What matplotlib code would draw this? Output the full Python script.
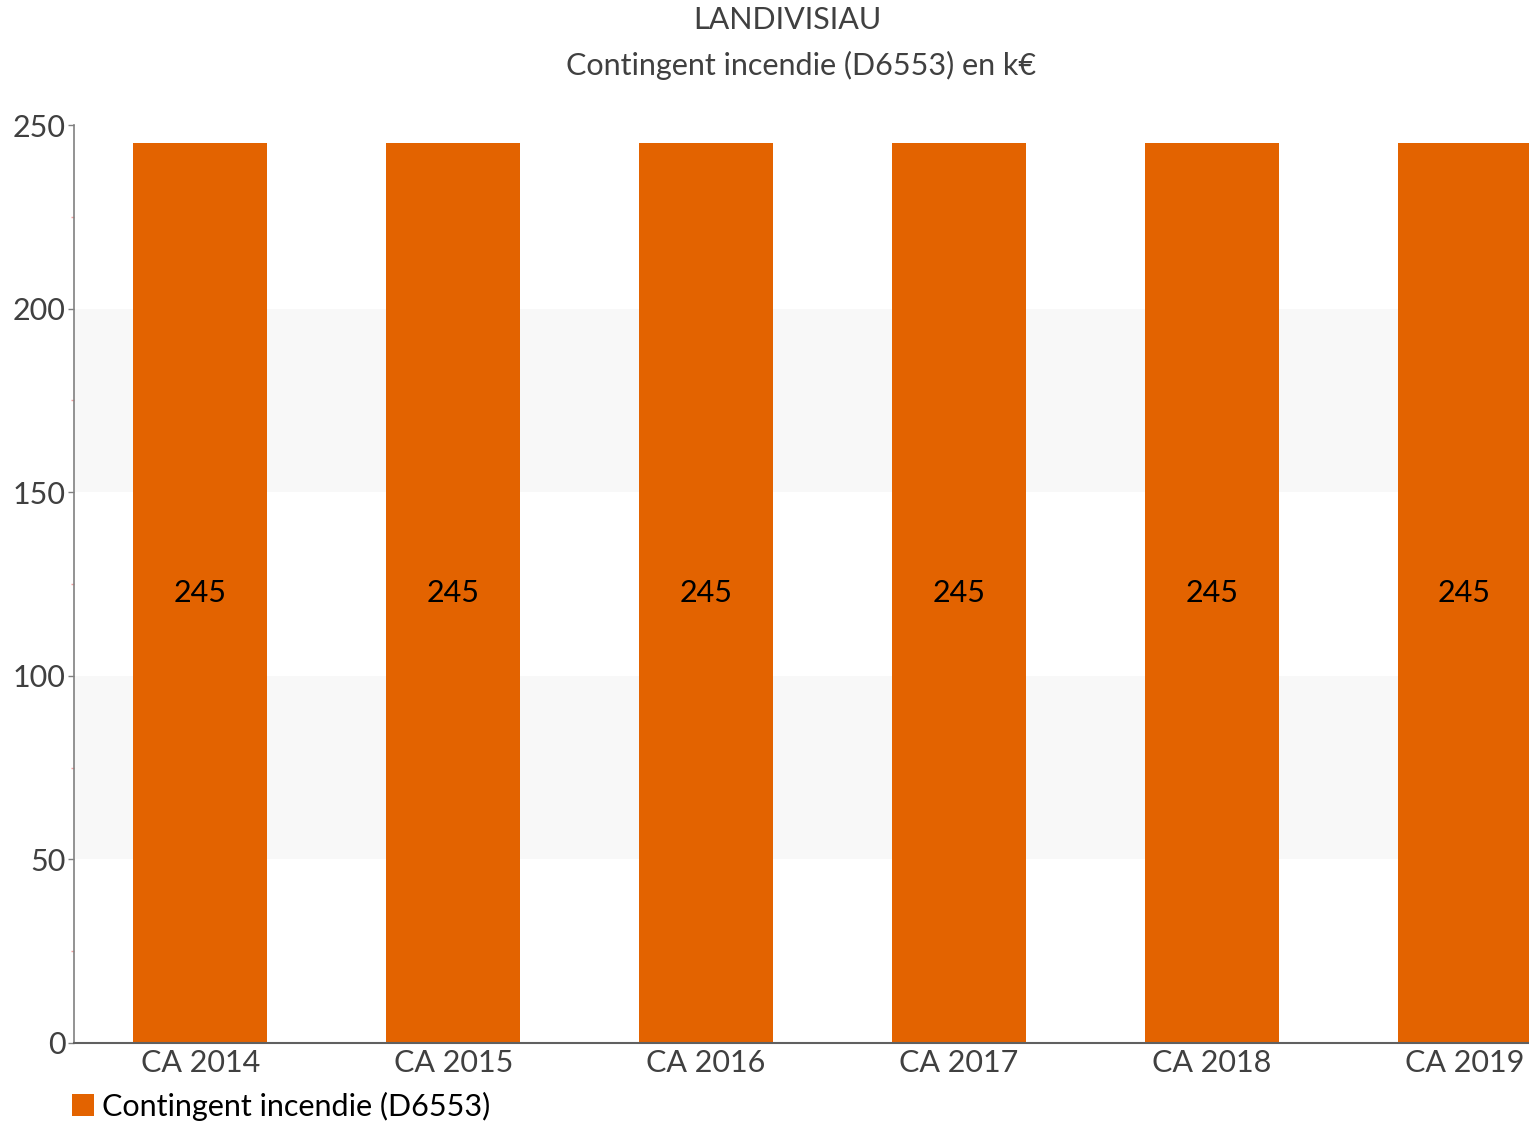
import matplotlib
matplotlib.use('Agg')
import matplotlib.pyplot as plt
import numpy as np

categories = ['CA 2014', 'CA 2015', 'CA 2016', 'CA 2017', 'CA 2018', 'CA 2019']
values = [245, 245, 245, 245, 245, 245]
series_name = 'Contingent incendie (D6553)'
y_ticks = [0, 50, 100, 150, 200, 250]
bands = [(50, 100), (150, 200)]

plt.rcParams['font.family'] = ['Lato', 'DejaVu Sans']

W, H = 1529, 1123
fig = plt.figure(figsize=(W / 100, H / 100), dpi=100)

# axes run past the right edge, the last bar is cut like in the source
left, bottom, top = 74 / W, (H - 1043) / H, (H - 125) / H
ax = fig.add_axes([left, bottom, 1517 / W, top - bottom])

for lo, hi in bands:
    ax.axhspan(lo, hi, color='#f8f8f8', zorder=0, lw=0)

x = np.arange(len(categories))
bars = ax.bar(x, values, width=0.53, color='#e36300', zorder=2, label=series_name)
for b, v in zip(bars, values):
    ax.text(b.get_x() + b.get_width() / 2, v / 2, str(v), ha='center', va='center',
            fontsize=22, color='black', zorder=3)

ax.set_xlim(-0.5, len(categories) - 0.5)
ax.set_ylim(0, 250)
ax.set_yticks(y_ticks)
ax.set_yticks([25, 75, 125, 175, 225], minor=True)
ax.set_xticks(x)
ax.set_xticklabels(categories)
ax.tick_params(axis='y', which='major', length=4, width=1, color='#808080',
               labelsize=22, labelcolor='#404040', pad=2)
ax.tick_params(axis='y', which='minor', length=2, width=1, color='#f0a0a0')
ax.tick_params(axis='x', length=0, labelsize=22, labelcolor='#404040', pad=4)

for s in ['top', 'right']:
    ax.spines[s].set_visible(False)
ax.spines['left'].set_color('#808080')
ax.spines['bottom'].set_color('#606060')
ax.spines['left'].set_linewidth(1.2)
ax.spines['bottom'].set_linewidth(1.5)

fig.text(787 / W, 1 - 20 / H, 'LANDIVISIAU', ha='center', va='center',
         fontsize=22, color='#404040')
fig.text(801 / W, 1 - 65 / H, 'Contingent incendie (D6553) en k\u20ac', ha='center',
         va='center', fontsize=22, color='#404040')

fig.legend(handles=[bars], labels=[series_name], loc='center left',
           bbox_to_anchor=(72 / W, 1 - 1106 / H), frameon=False, fontsize=22,
           handlelength=0.72, handleheight=0.72, handletextpad=0.25, borderpad=0,
           borderaxespad=0)

fig.savefig('out.png', dpi=100)
plt.close(fig)
